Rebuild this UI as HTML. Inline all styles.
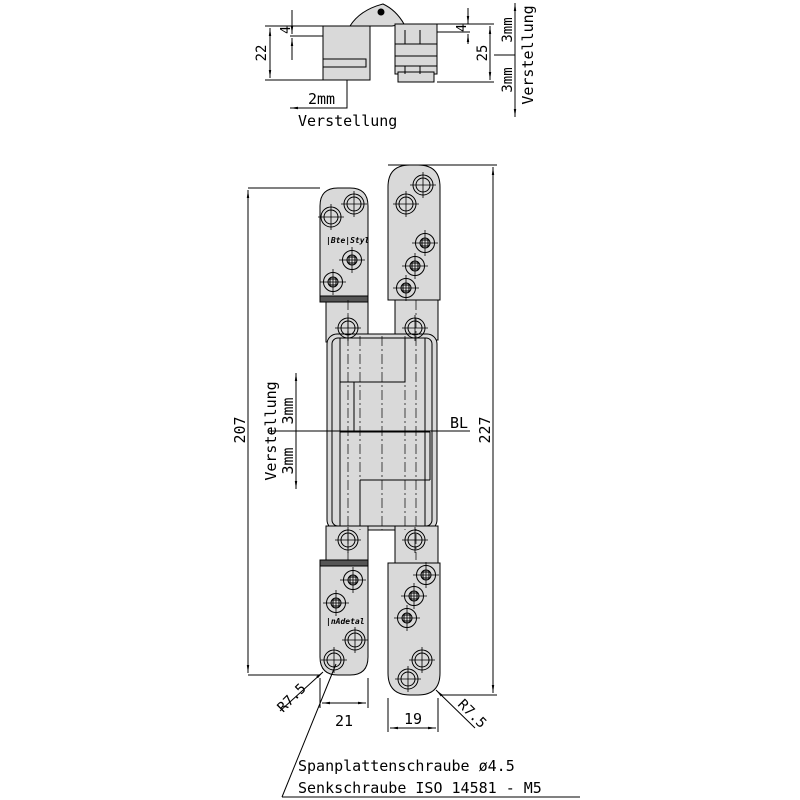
<!DOCTYPE html>
<html><head><meta charset="utf-8"><style>
html,body{margin:0;padding:0;background:#fff}
svg{display:block}
text{font-family:"DejaVu Sans Mono","Liberation Mono",monospace;fill:#000}
</style></head><body>
<svg width="800" height="800" viewBox="0 0 800 800" xmlns="http://www.w3.org/2000/svg">
<defs>
<marker id="a" viewBox="0 0 10 10" refX="10" refY="5" markerWidth="8" markerHeight="8" orient="auto-start-reverse"><path d="M0,3.5 L10,5 L0,6.5z" fill="#000"/></marker>
<g id="h"><circle r="10" fill="none" stroke="#000"/><circle r="7" fill="none" stroke="#000"/><path d="M-13,0H13M0,-13V13" stroke="#000" stroke-width="0.8"/></g>
<g id="s"><circle r="9.5" fill="none" stroke="#000"/><circle r="5" fill="none" stroke="#000"/><rect x="-3" y="-3" width="6" height="6" fill="none" stroke="#000"/><path d="M-13,0H13M0,-13V13" stroke="#000" stroke-width="0.8"/></g>
</defs>
<g stroke="#000" stroke-width="1" fill="#d9d9d9">
<!-- top view -->
<path d="M350,26 Q360,10 383,4 Q396,10 404,24 L392,26z"/>
<circle cx="381" cy="12" r="3" fill="#000"/>
<rect x="323" y="26" width="47" height="54"/>
<rect x="323" y="59" width="43" height="8"/>
<rect x="395" y="24" width="42" height="50"/>
<rect x="398" y="72" width="36" height="10"/>
<path d="M395,44H437M395,56H437M395,66H437M405,30V44M420,30V44M405,66V74M420,66V74" fill="none"/>
<!-- main hinge -->
<path d="M320,298 V206 Q320,188 338,188 H350 Q368,188 368,206 V298z"/>
<rect x="320" y="296" width="48" height="6" fill="#555"/>
<rect x="326" y="302" width="42" height="40"/>
<path d="M388,300 V187 Q388,165 410,165 H418 Q440,165 440,187 V300z"/>
<rect x="395" y="300" width="43" height="40"/>
<rect x="327" y="334" width="110" height="196" rx="10"/>
<rect x="332" y="338" width="100" height="188" rx="6" fill="none"/>
<path d="M340,338 V526 M425,338 V526 M340,382 H405 V338 M354,382 V432 M340,432 H430 M354,432 H430 M430,432 V480 M360,480 H430 M360,480 V526" fill="none"/>
<rect x="326" y="526" width="42" height="40"/>
<rect x="395" y="526" width="43" height="38"/>
<rect x="320" y="560" width="48" height="6" fill="#555"/>
<path d="M320,566 V657 Q320,675 338,675 H350 Q368,675 368,657 V566z"/>
<path d="M388,563 V673 Q388,695 410,695 H418 Q440,695 440,673 V563z"/>
</g>
<g stroke="#000" stroke-width="0.7" stroke-dasharray="10,3,2,3" fill="none">
<path d="M348,300V560M416,300V560M382,336V530M360,336V530M405,336V530"/>
</g>
<g>
<use href="#h" x="354" y="204"/><use href="#h" x="331" y="217"/><use href="#s" x="352" y="260"/><use href="#s" x="333" y="282"/>
<use href="#h" x="423" y="185"/><use href="#h" x="406" y="204"/><use href="#s" x="425" y="243"/><use href="#s" x="415" y="266"/><use href="#s" x="406" y="288"/>
<use href="#h" x="348" y="328"/><use href="#h" x="415" y="328"/><use href="#h" x="348" y="540"/><use href="#h" x="415" y="540"/>
<use href="#s" x="353" y="580"/><use href="#s" x="336" y="603"/><use href="#h" x="355" y="640"/><use href="#h" x="334" y="660"/>
<use href="#s" x="426" y="575"/><use href="#s" x="414" y="596"/><use href="#s" x="407" y="618"/><use href="#h" x="422" y="660"/><use href="#h" x="408" y="679"/>
</g>
<text x="326" y="243" font-size="8" font-style="italic" font-weight="bold" font-family="Liberation Sans">|Bte|Styl</text>
<text x="326" y="624" font-size="8" font-style="italic" font-weight="bold" font-family="Liberation Sans">|nAdetal</text>
<!-- dimension lines -->
<g stroke="#000" stroke-width="1" fill="none">
<path d="M248,188H320M248,675H320M388,165H497M440,695H497"/>
<path d="M248,190V673" marker-start="url(#a)" marker-end="url(#a)"/>
<path d="M493,167V693" marker-start="url(#a)" marker-end="url(#a)"/>
<path d="M268,431H470"/>
<path d="M296,373V489" marker-start="url(#a)" marker-end="url(#a)"/>
<path d="M320,678V708M368,678V708M388,698V732M438,698V732"/>
<path d="M322,703H366" marker-start="url(#a)" marker-end="url(#a)"/>
<path d="M390,728H436" marker-start="url(#a)" marker-end="url(#a)"/>
<path d="M280,711L323,672" marker-end="url(#a)"/>
<path d="M475,728L436,690" marker-end="url(#a)"/>
<path d="M282,797L336,664M282,797H580"/>
<!-- top view dims -->
<path d="M265,26H323M265,80H323"/>
<path d="M270,28V78" marker-start="url(#a)" marker-end="url(#a)"/>
<path d="M290,36H323M292,10V24M292,46V60"/>
<path d="M292,24V34" marker-end="url(#a)"/><path d="M292,48V38" marker-end="url(#a)"/>
<path d="M437,24H494M437,82H494M437,32H470"/>
<path d="M490,26V80" marker-start="url(#a)" marker-end="url(#a)"/>
<path d="M468,8V22M468,34V44"/>
<path d="M468,14V24" marker-end="url(#a)"/><path d="M468,42V34" marker-end="url(#a)"/>
<path d="M494,55H515"/><path d="M515,55V3" marker-end="url(#a)"/><path d="M515,55V117" marker-end="url(#a)"/>
<path d="M347,80V108H290" marker-end="url(#a)"/>
</g>
<text x="450" y="428" font-size="15">BL</text>
<text transform="translate(245,430) rotate(-90)" font-size="15" text-anchor="middle">207</text>
<text transform="translate(490,430) rotate(-90)" font-size="15" text-anchor="middle">227</text>
<text transform="translate(276,431) rotate(-90)" font-size="15" text-anchor="middle">Verstellung</text>
<text transform="translate(293,411) rotate(-90)" font-size="15" text-anchor="middle">3mm</text>
<text transform="translate(293,461) rotate(-90)" font-size="15" text-anchor="middle">3mm</text>
<text x="344" y="726" font-size="15" text-anchor="middle">21</text>
<text x="413" y="724" font-size="15" text-anchor="middle">19</text>
<text transform="translate(283,713) rotate(-45)" font-size="14">R7.5</text>
<text transform="translate(457,705) rotate(45)" font-size="14">R7.5</text>
<text x="298" y="771" font-size="15">Spanplattenschraube ø4.5</text>
<text x="298" y="793" font-size="15">Senkschraube ISO 14581 - M5</text>
<text transform="translate(266,53) rotate(-90)" font-size="14" text-anchor="middle">22</text>
<text transform="translate(290,30) rotate(-90)" font-size="13" text-anchor="middle">4</text>
<text transform="translate(487,53) rotate(-90)" font-size="14" text-anchor="middle">25</text>
<text transform="translate(466,28) rotate(-90)" font-size="13" text-anchor="middle">4</text>
<text transform="translate(512,30) rotate(-90)" font-size="14" text-anchor="middle">3mm</text>
<text transform="translate(512,80) rotate(-90)" font-size="14" text-anchor="middle">3mm</text>
<text transform="translate(533,55) rotate(-90)" font-size="15" text-anchor="middle">Verstellung</text>
<text x="308" y="104" font-size="15">2mm</text>
<text x="298" y="126" font-size="15">Verstellung</text>
</svg>
</body></html>
